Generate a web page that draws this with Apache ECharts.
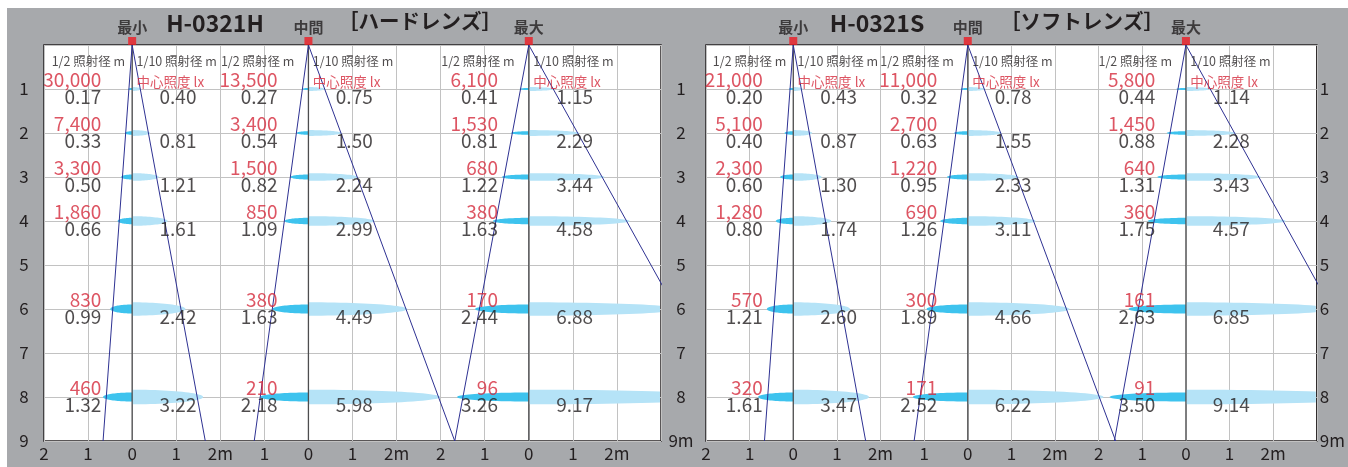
<!DOCTYPE html>
<html>
<head>
<meta charset="utf-8">
<script src="https://cdn.jsdelivr.net/npm/echarts@6/dist/echarts.min.js"></script>
<style>
html,body{margin:0;padding:0;background:#ffffff;}
#bg{position:absolute;left:7px;top:8px;width:1341px;height:459px;background:#a7a9ac;}
#c{position:absolute;left:0;top:0;width:1348px;height:467px;}
</style>
</head>
<body>
<div id="bg"></div>
<div id="c"></div>
<script>
// ---------- data ----------
const distances = [1, 2, 3, 4, 6, 8];
const xTickLabels = ['2', '1', '0', '1', '2m', '1', '0', '1', '2m', '2', '1', '0', '1', '2m', ''];
const yTickLabels = ['', '1', '2', '3', '4', '5', '6', '7', '8', '9'];
const yTickLabelsM = ['', '1', '2', '3', '4', '5', '6', '7', '8', '9m'];
const lampNames = ['最小', '中間', '最大'];
const panelTitles = ['H-0321H', 'H-0321S'];
const lensNames = ['［ハードレンズ］', '［ソフトレンズ］'];
const headHalf = '1/2 照射径 m';
const headTenth = '1/10 照射径 m';
const headLux = '中心照度 lx';

// H-0321H (hard lens)
const hardMinLux = [30000, 7400, 3300, 1860, 830, 460];
const hardMinHalf = [0.17, 0.33, 0.50, 0.66, 0.99, 1.32];
const hardMinTenth = [0.40, 0.81, 1.21, 1.61, 2.42, 3.22];
const hardMidLux = [13500, 3400, 1500, 850, 380, 210];
const hardMidHalf = [0.27, 0.54, 0.82, 1.09, 1.63, 2.18];
const hardMidTenth = [0.75, 1.50, 2.24, 2.99, 4.49, 5.98];
const hardMaxLux = [6100, 1530, 680, 380, 170, 96];
const hardMaxHalf = [0.41, 0.81, 1.22, 1.63, 2.44, 3.26];
const hardMaxTenth = [1.15, 2.29, 3.44, 4.58, 6.88, 9.17];
// beam edge offsets (m) at 9 m distance: [left, right]
const hardMinEdge = [-0.66, 1.66];
const hardMidEdge = [-1.23, 3.32];
const hardMaxEdge = [-1.68, 4.99];

// H-0321S (soft lens)
const softMinLux = [21000, 5100, 2300, 1280, 570, 320];
const softMinHalf = [0.20, 0.40, 0.60, 0.80, 1.21, 1.61];
const softMinTenth = [0.43, 0.87, 1.30, 1.74, 2.60, 3.47];
const softMidLux = [11000, 2700, 1220, 690, 300, 171];
const softMidHalf = [0.32, 0.63, 0.95, 1.26, 1.89, 2.52];
const softMidTenth = [0.78, 1.55, 2.33, 3.11, 4.66, 6.22];
const softMaxLux = [5800, 1450, 640, 360, 161, 91];
const softMaxHalf = [0.44, 0.88, 1.31, 1.75, 2.63, 3.50];
const softMaxTenth = [1.14, 2.28, 3.43, 4.57, 6.85, 9.14];
const softMinEdge = [-0.66, 1.66];
const softMidEdge = [-1.23, 3.39];
const softMaxEdge = [-1.64, 5.01];

// ---------- chart ----------
const FONT = '"Noto Sans CJK JP", "Noto Sans", sans-serif';
const INK = '#231f20';
const RED = '#d42a3c';
const zeroU = [2, 6, 11];           // axis position of each lamp's 0 line
const halfHeadShift = [-0.16, -0.32, -0.32];

function fmtLux(v) { return v.toLocaleString('en-US'); }

function beamRender(params, api) {
  const z = api.value(0), d = api.value(1), h = api.value(2), t = api.value(3);
  const c = api.coord([z, d]);
  const rL = c[0] - api.coord([z - h / 2, d])[0];
  const rR = api.coord([z + t / 2, d])[0] - c[0];
  const cs = params.coordSys;
  const xMin = cs.x + 1, xMax = cs.x + cs.width - 1;
  const hl = Math.min(7.3, 1 + 0.95 * d);
  const hd = Math.min(4.5, 0.4 + 0.7 * d);
  const N = 48, right = [], left = [];
  for (let k = 0; k <= N; k++) {
    const a = -Math.PI / 2 + Math.PI * k / N;
    right.push([Math.min(xMax, c[0] + rR * Math.cos(a)), c[1] + hl * Math.sin(a)]);
    left.push([Math.max(xMin, c[0] - rL * Math.cos(a)), c[1] + hd * Math.sin(a)]);
  }
  return {
    type: 'group',
    children: [
      { type: 'polygon', shape: { points: right }, style: { fill: '#b5e3f7' } },
      { type: 'polygon', shape: { points: left }, style: { fill: '#3ec3ee' } }
    ]
  };
}

function panelSeries(p, luxArr, halfArr, tenthArr, edges) {
  const yIdx = p === 0 ? 0 : 2;
  const base = { xAxisIndex: p, yAxisIndex: yIdx, silent: true, animation: false };
  const out = [];
  const beamData = [];
  for (let L = 0; L < 3; L++) {
    for (let i = 0; i < distances.length; i++) {
      beamData.push([zeroU[L], distances[i], halfArr[L][i], tenthArr[L][i]]);
    }
  }
  out.push(Object.assign({}, base, {
    type: 'custom', renderItem: beamRender, data: beamData, z: 2, clip: true
  }));
  // zero lines
  for (let L = 0; L < 3; L++) {
    out.push(Object.assign({}, base, {
      type: 'line', data: [[zeroU[L], 0], [zeroU[L], 9]], symbol: 'none',
      lineStyle: { color: '#4d4d4f', width: 1.3 }, z: 3
    }));
  }
  // beam edge lines
  for (let L = 0; L < 3; L++) {
    edges[L].forEach(function (e) {
      out.push(Object.assign({}, base, {
        type: 'line', data: [[zeroU[L], 0], [zeroU[L] + e, 9]], symbol: 'none', clip: true,
        lineStyle: { color: '#2e3192', width: 1 }, z: 5
      }));
    });
  }
  // red squares + lamp names
  out.push(Object.assign({}, base, {
    type: 'scatter', clip: false, z: 6,
    symbol: 'rect', symbolSize: 8, symbolOffset: [0, -4],
    itemStyle: { color: '#ed1c24' },
    data: zeroU.map(function (z, L) { return { value: [z, 0], name: lampNames[L] }; }),
    label: {
      show: true, position: 'top', distance: 2, formatter: '{b}',
      fontFamily: FONT, fontSize: 15, fontWeight: 'bold', color: INK
    }
  }));
  // texts
  const txt = [];
  function add(x, y, text, align, dy, color, size) {
    txt.push({
      value: [x, y],
      label: { formatter: text, align: align, verticalAlign: 'middle', offset: [0, dy], color: color, fontSize: size }
    });
  }
  for (let L = 0; L < 3; L++) {
    const z = zeroU[L];
    add(z + halfHeadShift[L], 0, headHalf, 'right', 16, INK, 12.5);
    add(z + 0.1, 0, headTenth, 'left', 16, INK, 12.5);
    add(z + 0.1, 0, headLux, 'left', 37, RED, 13.5);
    for (let i = 0; i < distances.length; i++) {
      const d = distances[i];
      add(z - 0.7, d, fmtLux(luxArr[L][i]), 'right', -9.5, RED, 19);
      add(z - 0.7, d, halfArr[L][i].toFixed(2), 'right', 7.5, INK, 19);
      add(z + 1.04, d, tenthArr[L][i].toFixed(2), 'center', 7.5, INK, 19);
    }
  }
  out.push(Object.assign({}, base, {
    type: 'scatter', clip: false, z: 7, symbol: 'rect', symbolSize: 1,
    itemStyle: { color: 'rgba(0,0,0,0)' },
    label: { show: true, position: 'inside', fontFamily: FONT },
    data: txt
  }));
  return out;
}

function xAxisFor(gi) {
  return {
    type: 'value', gridIndex: gi, min: 0, max: 14, interval: 1,
    axisLine: { show: false }, axisTick: { show: false },
    splitLine: { show: true, lineStyle: { color: '#c2c2c2', width: 1 } },
    axisLabel: {
      margin: 4, fontFamily: FONT, fontSize: 17, color: INK,
      formatter: function (v) { return xTickLabels[Math.round(v)] || ''; }
    }
  };
}
function yAxisFor(gi, pos, labels, align, margin, split) {
  return {
    type: 'value', gridIndex: gi, min: 0, max: 9, interval: 1, inverse: true, position: pos,
    axisLine: { show: false }, axisTick: { show: false },
    splitLine: { show: split, lineStyle: { color: '#c2c2c2', width: 1 } },
    axisLabel: {
      margin: margin, align: align, fontFamily: FONT, fontSize: 17, color: INK,
      showMinLabel: true, showMaxLabel: true,
      formatter: function (v) { return labels[Math.round(v)] || ''; }
    }
  };
}

const gridLefts = [44, 706];
const titles = [];
for (let p = 0; p < 2; p++) {
  titles.push({
    text: panelTitles[p], left: gridLefts[p] + 171, top: 12, textAlign: 'center', padding: 0,
    textStyle: { fontFamily: FONT, fontSize: 23, fontWeight: 'bold', color: INK }
  });
  titles.push({
    text: lensNames[p], left: gridLefts[p] + 376, top: 11, textAlign: 'center', padding: 0,
    textStyle: { fontFamily: FONT, fontSize: 20.5, fontWeight: 'bold', color: INK }
  });
}

const option = {
  backgroundColor: 'transparent',
  animation: false,
  title: titles,
  grid: gridLefts.map(function (l) {
    return {
      left: l, top: 45, width: 617, height: 396, show: true,
      backgroundColor: '#ffffff', borderColor: INK, borderWidth: 1.5
    };
  }),
  xAxis: [xAxisFor(0), xAxisFor(1)],
  yAxis: [
    yAxisFor(0, 'left', yTickLabels, 'center', 20, true),
    yAxisFor(0, 'right', yTickLabelsM, 'center', 20, false),
    yAxisFor(1, 'right', yTickLabelsM, 'left', 3, true)
  ],
  series: [].concat(
    panelSeries(0,
      [hardMinLux, hardMidLux, hardMaxLux],
      [hardMinHalf, hardMidHalf, hardMaxHalf],
      [hardMinTenth, hardMidTenth, hardMaxTenth],
      [hardMinEdge, hardMidEdge, hardMaxEdge]),
    panelSeries(1,
      [softMinLux, softMidLux, softMaxLux],
      [softMinHalf, softMidHalf, softMaxHalf],
      [softMinTenth, softMidTenth, softMaxTenth],
      [softMinEdge, softMidEdge, softMaxEdge])
  )
};

const chart = echarts.init(document.getElementById('c'), null, { renderer: 'canvas' });
chart.setOption(option);
</script>
</body>
</html>
